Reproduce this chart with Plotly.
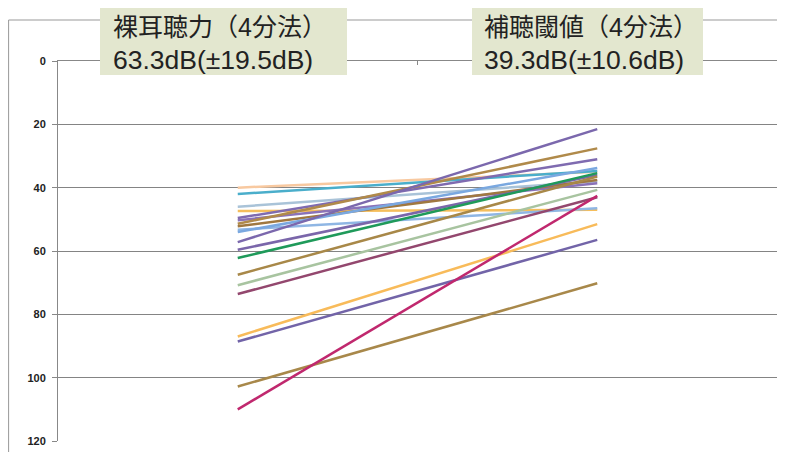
import plotly.graph_objects as go

categories = ["裸耳聴力", "補聴閾値"]
unaided = [40, 42, 46, 47.4, 49.6, 50.3, 51.4, 52.2, 53.3, 54, 57.2, 59.6, 62.2, 67.5, 70.8, 73.6, 87, 88.6, 102.8, 110]
aided   = [35, 34.7, 38, 47, 31, 38.6, 27.6, 37.6, 46.5, 33.8, 21.5, 36, 35.4, 36.5, 40.7, 43, 51.5, 56.5, 70.2, 42.6]
colors = ["#f8c9a0", "#4aaecb", "#a9c3d8", "#f5be5c", "#7f6bb0", "#8a72b8", "#b08a4a", "#a07840",
          "#8fb6e4", "#7aa8e0", "#7b68ad", "#7a66aa", "#1f9a5a", "#a88848", "#a8c4a0", "#93476e",
          "#f8bb5a", "#7264a8", "#a8884a", "#c0286e"]
y_ticks = [0, 20, 40, 60, 80, 100, 120]
box_titles = ["裸耳聴力（4分法）", "補聴閾値（4分法）"]
box_values = ["63.3dB(±19.5dB)", "39.3dB(±10.6dB)"]

fig = go.Figure()
for a, b, c in zip(unaided, aided, colors):
    fig.add_trace(go.Scatter(x=categories, y=[a, b], mode="lines",
                             line=dict(color=c, width=2.5), showlegend=False, hoverinfo="skip"))

# page body has an 8px margin: figure origin sits at window (8, 8)
O = 8
W, H = 785 - O, 452 - O
L, T = 58 - O, 61 - O
R = W - (777 - O)
B = H - (441 - O)
pw, ph = W - L - R, H - T - B

def px(x):  # window x -> paper
    return (x - O - L) / pw

def py(y):  # window y -> paper
    return (H - B - (y - O)) / ph

fig.update_layout(
    width=W, height=H,
    margin=dict(l=L, r=R, t=T, b=B, autoexpand=False),
    paper_bgcolor="white", plot_bgcolor="white",
    font=dict(family="Liberation Sans, Arial, sans-serif", color="#222"),
    xaxis=dict(type="category", range=[-0.5, 1.5], showticklabels=False, showgrid=False,
               tickson="boundaries", ticks="inside", ticklen=4, tickcolor="#888",
               showline=True, linecolor="#888", side="top", zeroline=False, automargin=False),
    yaxis=dict(range=[120, 0], tickvals=y_ticks, ticks="outside", ticklen=5, tickcolor="#888",
               showline=True, linecolor="#888", gridcolor="#848484", gridwidth=1,
               ticklabelstandoff=4,
               tickfont=dict(size=11, color="#222", family="Liberation Sans, Arial, sans-serif", weight="bold"),
               zeroline=False, automargin=False),
)

# outer chart border (left and top)
fig.add_shape(type="line", xref="paper", yref="paper", x0=px(8.6), x1=px(8.6), y0=py(452), y1=py(20),
              line=dict(color="#999", width=1))
fig.add_shape(type="line", xref="paper", yref="paper", x0=px(8.6), x1=px(785), y0=py(20), y1=py(20),
              line=dict(color="#999", width=1))

boxes = [(100, 347, 111), (472, 703, 482)]
for (x0, x1, tx), t1, t2 in zip(boxes, box_titles, box_values):
    fig.add_shape(type="rect", xref="paper", yref="paper", x0=px(x0), x1=px(x1), y0=py(75), y1=py(5),
                  fillcolor="#e3e7cf", line=dict(width=0), layer="above")
    txt = f"{t1}<br><span style='font-size:26.5px'>{t2}</span>"
    fig.add_annotation(xref="paper", yref="paper", x=px(tx), y=py(44), xanchor="left", yanchor="middle",
                       text=txt, showarrow=False, align="left",
                       font=dict(size=25, color="#222", family="Liberation Sans, Noto Sans CJK JP, sans-serif"))

fig.write_html("out.html")
